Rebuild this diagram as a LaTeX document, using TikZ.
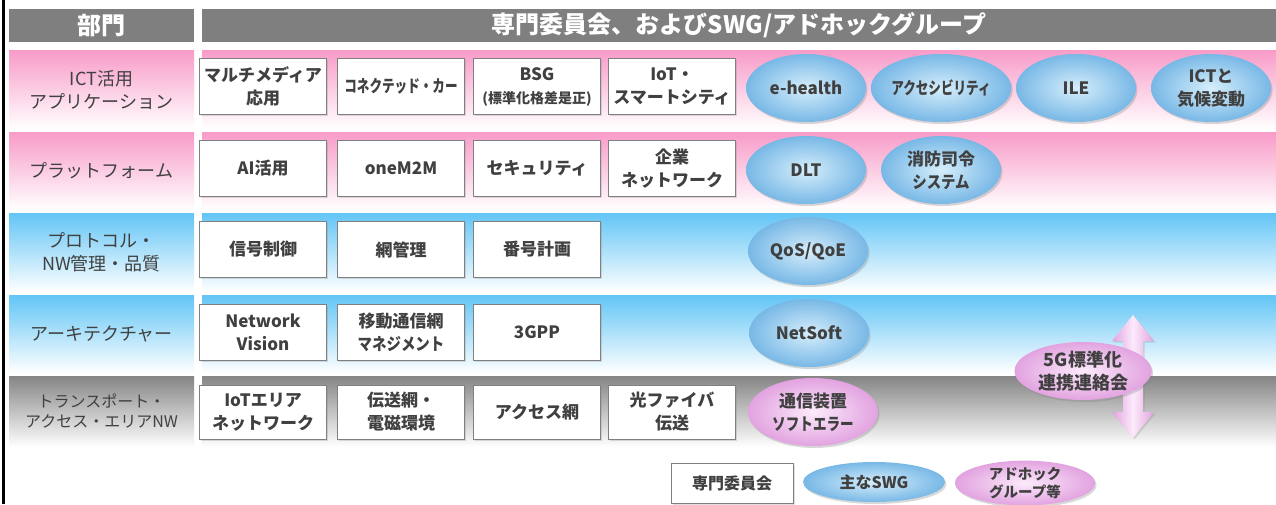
\documentclass[tikz,border=0pt]{standalone}
\usepackage{fontspec}
\usepackage{graphicx}
\setmainfont{Noto Sans CJK JP}
\usetikzlibrary{shapes.geometric,shadows}

\definecolor{hdgray}{HTML}{7F7F7F}
\definecolor{txtgray}{HTML}{404040}
\definecolor{boxline}{HTML}{808080}
\definecolor{pinkband}{HTML}{F89BC8}
\definecolor{blueband}{HTML}{62C5F6}
\definecolor{grayband}{HTML}{858585}
\definecolor{swgin}{HTML}{D6EEFB}
\definecolor{swgout}{HTML}{78B8E6}
\definecolor{adhin}{HTML}{FCEAFB}
\definecolor{adhout}{HTML}{E2A3E0}

\tikzset{
  hdbar/.style={fill=hdgray, text=white, inner sep=0pt, minimum height=33pt,
    font=\bfseries\fontsize{24}{26}\selectfont},
  rowlab/.style={top color=#1, bottom color=white, draw=none, inner sep=0pt,
    minimum width=185pt, minimum height=78pt, align=center, text=txtgray,
    font=\fontsize{18}{23}\selectfont},
  wgbox/.style={draw=boxline, fill=white, minimum width=127pt, minimum height=56pt,
    inner sep=1pt, align=center, text=txtgray,
    font=\bfseries\fontsize{17}{23}\selectfont,
    drop shadow={opacity=0.25, shadow xshift=1.5pt, shadow yshift=-1.5pt}},
  swg/.style={ellipse, inner color=swgin, outer color=swgout, minimum width=120pt,
    minimum height=68pt, inner sep=0pt, align=center, text=txtgray,
    font=\bfseries\fontsize{17}{23}\selectfont,
    drop shadow={opacity=0.3, shadow xshift=1.5pt, shadow yshift=-2pt}},
  adhoc/.style={swg, inner color=adhin, outer color=adhout}
}

\begin{document}
\begin{tikzpicture}[x=1pt,y=-1pt]
  \useasboundingbox (0,0) rectangle (1276,504);
  \fill[white] (0,0) rectangle (1276,504);

  % left frame line
  \draw[line width=3pt] (3.5,0) -- (3.5,504);

  % header
  \node[hdbar, minimum width=185pt] (hdept) at (101.5,25.5) {部門};
  \node[hdbar, minimum width=1074pt] (hcomm) at (739,25.5) {専門委員会、およびSWG/アドホックグループ};

  % row bands
  \foreach \ya/\yb/\c in {50/129/pinkband, 132/210/pinkband, 213/292/blueband,
                          295/373/blueband, 376/447/grayband} {
      \shade[top color=\c, bottom color=white] (202,\ya) rectangle (1276,\yb);
    }

  % row labels
  \node[rowlab=pinkband, minimum height=79pt] (rict) at (101.5,89.5) {ICT活用\\アプリケーション};
  \node[rowlab=pinkband] (rplat) at (101.5,171) {プラットフォーム};
  \node[rowlab=blueband, minimum height=79pt] (rproto) at (101.5,252.5) {プロトコル・\\NW管理・品質};
  \node[rowlab=blueband] (rarch) at (101.5,334) {アーキテクチャー};
  \node[rowlab=grayband, minimum height=71pt, font=\fontsize{16}{20}\selectfont]
    (rtrans) at (101.5,411.5) {トランスポート・\\アクセス・エリアNW};

  % ICT活用アプリケーション
  \node[wgbox] (mm) at (263,86.5) {マルチメディア\\応用};
  \node[wgbox] (car) at (401,86.5) {\scalebox{0.74}[1]{コネクテッド・カー}};
  \node[wgbox] (bsg) at (537,86.5) {BSG\\{\fontsize{14}{16}\selectfont (標準化格差是正)}};
  \node[wgbox] (iot) at (672,86.5) {IoT・\\スマートシティ};
  \node[swg] (ehealth) at (806,88) {e-health};
  \node[swg] (access) at (941,88) {\scalebox{0.74}[1]{アクセシビリティ}};
  \node[swg] (ile) at (1076,88) {ILE};
  \node[swg] (climate) at (1211,88) {ICTと\\気候変動};

  % プラットフォーム
  \node[wgbox] (ai) at (263,168.5) {AI活用};
  \node[wgbox] (onem2m) at (401,168.5) {oneM2M};
  \node[wgbox] (sec) at (537,168.5) {セキュリティ};
  \node[wgbox] (ent) at (672,168.5) {企業\\ネットワーク};
  \node[swg] (dlt) at (806,170) {DLT};
  \node[swg] (fire) at (941,170) {消防司令\\\scalebox{0.85}[1]{システム}};

  % プロトコル・NW管理・品質
  \node[wgbox] (sig) at (263,249.5) {信号制御};
  \node[wgbox] (nwm) at (401,249.5) {網管理};
  \node[wgbox] (num) at (537,249.5) {番号計画};
  \node[swg] (qos) at (808,251) {QoS/QoE};

  % アーキテクチャー
  \node[wgbox] (nv) at (263,332) {Network\\Vision};
  \node[wgbox] (mob) at (401,332) {移動通信網\\\scalebox{0.85}[1]{マネジメント}};
  \node[wgbox] (gpp) at (537,332) {3GPP};
  \node[swg] (netsoft) at (809,333) {NetSoft};

  % トランスポート・アクセス・エリアNW
  \node[wgbox, minimum height=54pt] (iotarea) at (263,412) {IoTエリア\\ネットワーク};
  \node[wgbox, minimum height=54pt] (trans) at (401,412) {伝送網・\\電磁環境};
  \node[wgbox, minimum height=54pt] (accnw) at (537,412) {アクセス網};
  \node[wgbox, minimum height=54pt] (fiber) at (672,412) {光ファイバ\\伝送};
  \node[adhoc, minimum width=130pt] (softerr) at (813,412) {通信装置\\\scalebox{0.8}[1]{ソフトエラー}};

  % 5G standardisation liaison
  \shade[left color=adhout, right color=adhout, middle color=adhin,
         drop shadow={opacity=0.25, shadow xshift=1.5pt, shadow yshift=-1.5pt}]
    (1133,315) -- (1154,341) -- (1143,341) -- (1143,412) -- (1154,412) -- (1133,438)
    -- (1112,412) -- (1123,412) -- (1123,341) -- (1112,341) -- cycle;
  \node[adhoc, minimum width=137pt, minimum height=58pt,
        font=\bfseries\fontsize{18}{23}\selectfont] (fiveg) at (1083,371) {5G標準化\\連携連絡会};

  % legend
  \node[wgbox, minimum width=122pt, minimum height=40pt,
        font=\bfseries\fontsize{16}{20}\selectfont] (legcomm) at (732,483) {専門委員会};
  \node[swg, minimum width=142pt, minimum height=40pt,
        font=\bfseries\fontsize{16}{20}\selectfont] (legswg) at (874,482) {主なSWG};
  \node[adhoc, minimum width=140pt, minimum height=44pt,
        font=\bfseries\fontsize{14.5}{18}\selectfont] (legadh) at (1025,483) {アドホック\\グループ等};
\end{tikzpicture}
\end{document}
